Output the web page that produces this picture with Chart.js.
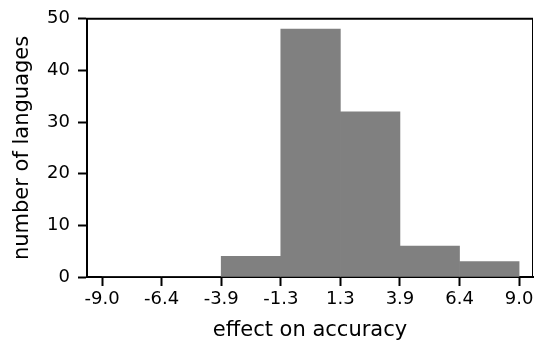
<!DOCTYPE html>
<html>
<head>
<meta charset="utf-8">
<script src="https://cdn.jsdelivr.net/npm/chart.js@4/dist/chart.umd.min.js"></script>
<style>
  html, body { margin: 0; padding: 0; background: #fff; }
  #wrap { width: 534px; height: 343px; }
</style>
</head>
<body>
<div id="wrap"><canvas id="histChart" width="534" height="343"></canvas></div>
<script>
// histogram bins (edges) and counts
var binEdges = [-9.0, -6.4286, -3.8571, -1.2857, 1.2857, 3.8571, 6.4286, 9.0];
var binCounts = [0, 0, 4, 48, 32, 6, 3];
var yTicks = [0, 10, 20, 30, 40, 50];

var points = binCounts.map(function (c, i) {
  return { x: (binEdges[i] + binEdges[i + 1]) / 2, y: c };
});

// draw the top and right spines of the axes box
var boxPlugin = {
  id: 'boxPlugin',
  afterDraw: function (chart) {
    var a = chart.chartArea;
    var ctx = chart.ctx;
    ctx.save();
    ctx.strokeStyle = '#000';
    ctx.lineWidth = 2;
    ctx.beginPath();
    ctx.moveTo(a.left - 1, a.top);
    ctx.lineTo(a.right, a.top);
    ctx.stroke();
    ctx.lineWidth = 1;
    ctx.beginPath();
    ctx.moveTo(a.right - 0.5, a.top);
    ctx.lineTo(a.right - 0.5, a.bottom);
    ctx.stroke();
    ctx.restore();
  }
};

var ctx = document.getElementById('histChart').getContext('2d');
var myChart = new Chart(ctx, {
  type: 'bar',
  data: {
    datasets: [{
      data: points,
      backgroundColor: '#808080',
      borderWidth: 0,
      barPercentage: 1.0,
      categoryPercentage: 1.0
    }]
  },
  options: {
    responsive: false,
    animation: false,
    layout: { padding: { top: 16, right: 1, left: 0, bottom: 0 } },
    plugins: { legend: { display: false }, tooltip: { enabled: false } },
    scales: {
      x: {
        type: 'linear',
        min: -9.65,
        max: 9.6,
        offset: false,
        afterBuildTicks: function (scale) {
          scale.ticks = binEdges.map(function (v) { return { value: v }; });
        },
        afterFit: function (scale) {
          scale.height = 66;
          scale.paddingRight = 0;
          scale.paddingLeft = 0;
        },
        ticks: {
          autoSkip: false,
          maxRotation: 0,
          color: '#000',
          padding: 3,
          font: { family: 'DejaVu Sans', size: 18 },
          callback: function (v) { return v.toFixed(1); }
        },
        grid: { offset: false, drawOnChartArea: false, tickLength: 9, tickColor: '#000', tickWidth: 2 },
        border: { color: '#000', width: 2 },
        title: {
          display: true,
          text: 'effect on accuracy',
          color: '#000',
          font: { family: 'DejaVu Sans', size: 21 },
          padding: { top: 0, bottom: 0 }
        }
      },
      y: {
        min: 0,
        max: 50,
        afterBuildTicks: function (scale) {
          scale.ticks = yTicks.map(function (v) { return { value: v }; });
        },
        afterFit: function (scale) { scale.width = 87; },
        ticks: {
          color: '#000',
          padding: 8,
          font: { family: 'DejaVu Sans', size: 18 }
        },
        grid: { drawOnChartArea: false, tickLength: 9, tickColor: '#000', tickWidth: 2 },
        border: { color: '#000', width: 2 },
        title: {
          display: true,
          text: 'number of languages',
          color: '#000',
          font: { family: 'DejaVu Sans', size: 21 },
          padding: { top: 10, bottom: 0 }
        }
      }
    }
  },
  plugins: [boxPlugin]
});
</script>
</body>
</html>
